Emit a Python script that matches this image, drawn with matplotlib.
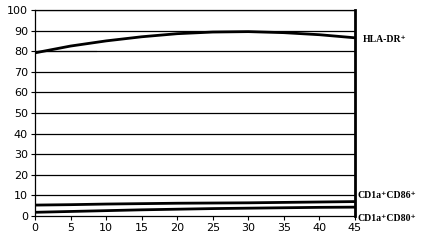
import matplotlib.pyplot as plt

time = [0, 5, 10, 15, 20, 25, 30, 35, 40, 45]
hla_dr = [79.2, 82.5, 85.0, 87.0, 88.5, 89.3, 89.5, 89.0, 88.0, 86.5]
cd86 = [5.3, 5.5, 5.8, 6.0, 6.2, 6.3, 6.4, 6.6, 6.8, 7.0]
cd80 = [1.8, 2.2, 2.6, 3.0, 3.3, 3.6, 3.8, 4.0, 4.2, 4.3]
ref_x = [0, 8.6]
ref_y = [80, 80]

fig = plt.figure(figsize=(4.24, 2.4), dpi=100)
ax = fig.add_axes([35/424, 24/240, 320/424, 206/240])

for y in range(10, 101, 10):
    ax.axhline(y, color='black', lw=0.9, zorder=1)

ax.plot(ref_x, ref_y, color='black', lw=0.8, zorder=2)
ax.plot(time, hla_dr, color='black', lw=2.0, zorder=3)
ax.plot(time, cd86, color='black', lw=2.0, zorder=3)
ax.plot(time, cd80, color='black', lw=2.0, zorder=3)

ax.set_xlim(0, 45)
ax.set_ylim(0, 100)
ax.set_xticks(range(0, 46, 5))
ax.set_yticks(range(0, 101, 10))
ax.tick_params(labelsize=8, length=3, width=0.8, pad=2)
for s in ['left', 'bottom', 'top']:
    ax.spines[s].set_linewidth(0.9)
ax.spines['right'].set_linewidth(2.0)

lab = dict(family=['Liberation Serif', 'DejaVu Serif'], fontweight='bold', fontsize=7,
           va='center', transform=ax.get_yaxis_transform())
ax.text(1.025, 85.5, 'HLA-DR⁺', **lab)
ax.text(1.008, 10, 'CD1a⁺CD86⁺', **lab)
ax.text(1.008, -1, 'CD1a⁺CD80⁺', **lab)

fig.savefig('out.png', dpi=100)
